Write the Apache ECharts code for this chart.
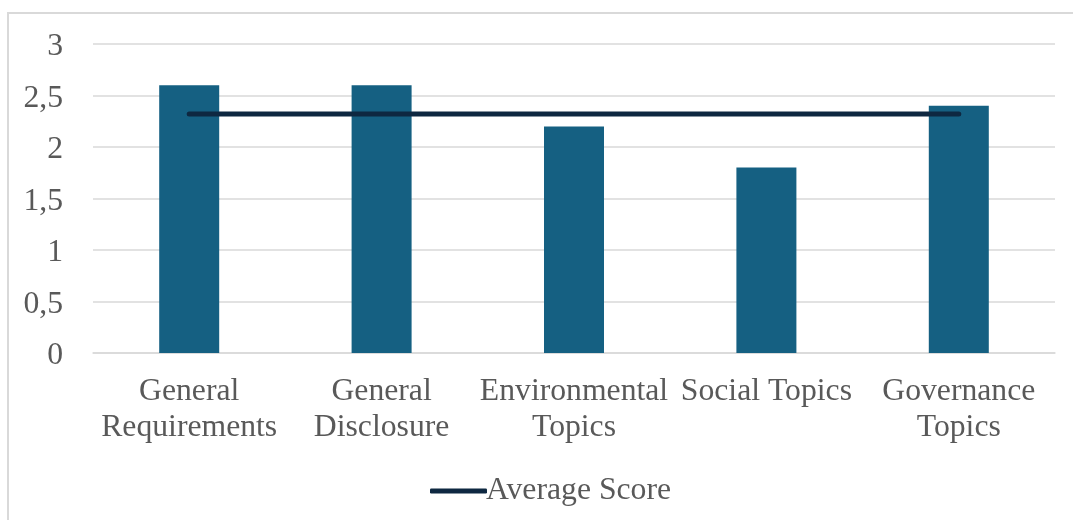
<!DOCTYPE html>
<html>
<head>
<meta charset="utf-8">
<script src="https://cdn.jsdelivr.net/npm/echarts@6/dist/echarts.min.js"></script>
<style>
  html, body { margin: 0; padding: 0; background: #ffffff; }
  #frame { position: absolute; left: 7px; top: 12px; width: 1080px; height: 520px;
           border: 2px solid #d9d9d9; box-sizing: border-box; }
  #chart { position: absolute; left: 0; top: 0; width: 1073px; height: 520px; }
</style>
</head>
<body>
<div id="frame"></div>
<div id="chart"></div>
<script>
// Scores per reporting area
const categories = ['General\nRequirements', 'General\nDisclosure', 'Environmental\nTopics', 'Social Topics', 'Governance\nTopics'];
const scores = [2.6, 2.6, 2.2, 1.8, 2.4];
const averageScore = [2.32, 2.32, 2.32, 2.32, 2.32];
const yTicks = { min: 0, max: 3, interval: 0.5 };

const FONT = '"Liberation Serif", "Times New Roman", serif';
const TEXT = '#595959';
const LINE_COLOR = '#0e2841';

const chart = echarts.init(document.getElementById('chart'), null, { renderer: 'canvas' });
chart.setOption({
  animation: false,
  textStyle: { fontFamily: FONT },
  grid: { left: 93, right: 18, top: 44, bottom: 167, containLabel: false },
  legend: {
    data: [{ name: 'Average Score', icon: 'roundRect' }],
    left: 425, top: 470,
    itemWidth: 57, itemHeight: 5, itemGap: 4,
    itemStyle: { color: LINE_COLOR, borderWidth: 0 },
    textStyle: { fontFamily: FONT, fontSize: 31.7, color: TEXT, padding: [2, 0, 0, -6] }
  },
  xAxis: {
    type: 'category',
    data: categories,
    axisLine: { lineStyle: { color: '#d9d9d9', width: 1.5 } },
    axisTick: { show: false },
    axisLabel: { interval: 0, margin: 21, fontFamily: FONT, fontSize: 31.7, lineHeight: 36, color: TEXT }
  },
  yAxis: {
    type: 'value',
    min: yTicks.min, max: yTicks.max, interval: yTicks.interval,
    axisLine: { show: false },
    axisTick: { show: false },
    splitLine: { lineStyle: { color: '#d9d9d9', width: 1.5 } },
    axisLabel: {
      margin: 30, color: TEXT,
      formatter: v => '{t|' + String(v).replace('.', ',') + '}',
      rich: { t: { fontFamily: FONT, fontSize: 31.7, color: TEXT, padding: [6, 0, 0, 0] } }
    }
  },
  series: [
    {
      name: 'Score',
      type: 'bar',
      data: scores,
      barWidth: 60,
      itemStyle: { color: '#156082' }
    },
    {
      name: 'Average Score',
      type: 'line',
      data: averageScore,
      symbol: 'none',
      lineStyle: { color: LINE_COLOR, width: 5, cap: 'round' },
      itemStyle: { color: LINE_COLOR },
      z: 5
    }
  ]
});
</script>
</body>
</html>
